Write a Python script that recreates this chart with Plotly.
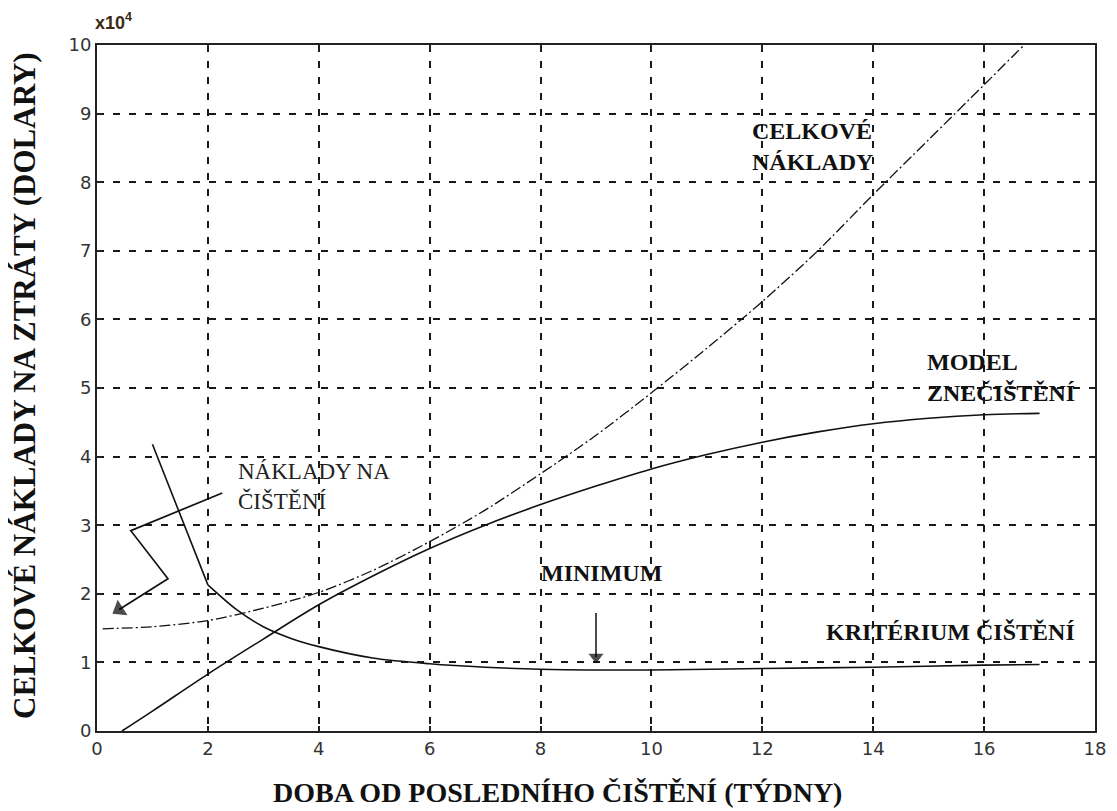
import plotly.graph_objects as go

# ---------------- data (values in units of 10^4 dollars) ----------------
weeks_model = [0.45, 1, 2, 3, 4, 5, 6, 7, 8, 9, 10, 11, 12, 13, 14, 15, 16, 17]
model_fouling = [0.0, 0.29, 0.83, 1.34, 1.84, 2.27, 2.66, 3.0, 3.30, 3.57, 3.82, 4.03, 4.21, 4.36, 4.48, 4.56, 4.61, 4.63]

weeks_total = [0.1, 1, 2, 3, 4, 5, 6, 7, 8, 9, 10, 11, 12, 13, 14, 15, 16, 16.72]
total_cost = [1.49, 1.52, 1.61, 1.79, 2.02, 2.35, 2.76, 3.22, 3.75, 4.31, 4.93, 5.58, 6.26, 7.0, 7.82, 8.62, 9.42, 10.0]

weeks_crit_a = [1.0, 2.0]
criterion_a = [4.18, 2.13]
weeks_crit_b = [2.0, 2.5, 3.0, 3.5, 4.0, 5.0, 6.0, 7.0, 8.0, 9.0, 10.0, 12.0, 14.0, 16.0, 17.0]
criterion_b = [2.13, 1.78, 1.52, 1.35, 1.23, 1.06, 0.98, 0.93, 0.90, 0.89, 0.89, 0.91, 0.93, 0.96, 0.97]

x_ticks = [0, 2, 4, 6, 8, 10, 12, 14, 16, 18]
y_ticks = [0, 1, 2, 3, 4, 5, 6, 7, 8, 9, 10]

minimum_week = 9
minimum_arrow_y = [1.72, 1.08]

# callout arrow for "NÁKLADY NA ČIŠTĚNÍ" (zig-zag leader)
callout_x = [2.26, 0.61, 1.28, 0.40]
callout_y = [3.47, 2.92, 2.22, 1.77]

# ---------------- figure ----------------
fig = go.Figure()
ink = "#111"

fig.add_trace(go.Scatter(x=weeks_model, y=model_fouling, mode="lines",
                         line=dict(color=ink, width=1.6, shape="spline", smoothing=1.0),
                         showlegend=False, hoverinfo="skip"))
fig.add_trace(go.Scatter(x=weeks_total, y=total_cost, mode="lines",
                         line=dict(color=ink, width=1.3, shape="spline", smoothing=0.8,
                                   dash="11px,3px,2px,3px"),
                         showlegend=False, hoverinfo="skip"))
fig.add_trace(go.Scatter(x=weeks_crit_a, y=criterion_a, mode="lines",
                         line=dict(color=ink, width=1.6),
                         showlegend=False, hoverinfo="skip"))
fig.add_trace(go.Scatter(x=weeks_crit_b, y=criterion_b, mode="lines",
                         line=dict(color=ink, width=1.6, shape="spline", smoothing=0.8),
                         showlegend=False, hoverinfo="skip"))

# minimum arrow
fig.add_trace(go.Scatter(x=[minimum_week, minimum_week], y=minimum_arrow_y, mode="lines+markers",
                         line=dict(color=ink, width=1.5),
                         marker=dict(symbol="triangle-up", size=[0, 13], color="#000", angleref="previous",
                                     line=dict(width=0)),
                         showlegend=False, hoverinfo="skip"))
# cleaning-cost callout arrow
fig.add_trace(go.Scatter(x=callout_x, y=callout_y, mode="lines+markers",
                         line=dict(color=ink, width=1.7),
                         marker=dict(symbol="triangle-up", size=[0, 0, 0, 16], color="#000", angleref="previous",
                                     line=dict(width=0)),
                         showlegend=False, hoverinfo="skip"))

serif = "Liberation Serif, Times New Roman, serif"
lab_font = dict(family=serif, size=24, color=ink)

annotations = [
    dict(x=12.9, y=8.52, text="<b>CELKOVÉ<br>NÁKLADY</b>", showarrow=False,
         font=lab_font, align="left", xanchor="center", yanchor="middle"),
    dict(x=16.3, y=5.16, text="<b>MODEL<br>ZNEČIŠTĚNÍ</b>", showarrow=False,
         font=lab_font, align="left", xanchor="center", yanchor="middle"),
    dict(x=9.1, y=2.3, text="<b>MINIMUM</b>", showarrow=False,
         font=lab_font, xanchor="center", yanchor="middle"),
    dict(x=15.4, y=1.44, text="<b>KRITÉRIUM ČIŠTĚNÍ</b>", showarrow=False,
         font=lab_font, xanchor="center", yanchor="middle"),
    dict(x=2.5, y=3.56, text="NÁKLADY NA<br>ČIŠTĚNÍ", showarrow=False,
         font=dict(family=serif, size=23, color="#222"), align="left",
         xanchor="left", yanchor="middle"),
    # x10^4 multiplier
    dict(xref="paper", yref="paper", x=0.0, y=1.0, xanchor="left", yanchor="bottom",
         xshift=-4, yshift=10, text="<b>x10</b><sup><b>4</b></sup>", showarrow=False,
         font=dict(family="Liberation Sans, Arial, sans-serif", size=18, color="#3a2a12")),
    # axis titles
    dict(xref="paper", yref="paper", x=0.461, y=0.0, xanchor="center", yanchor="middle",
         yshift=-61, text="<b>DOBA OD POSLEDNÍHO ČIŠTĚNÍ (TÝDNY)</b>", showarrow=False,
         font=dict(family=serif, size=28, color=ink)),
    dict(xref="paper", yref="paper", x=0.0, y=0.503, xanchor="center", yanchor="middle",
         xshift=-72, textangle=-90, text="<b>CELKOVÉ NÁKLADY NA ZTRÁTY (DOLARY)</b>",
         showarrow=False, font=dict(family=serif, size=31, color=ink)),
]

axis_common = dict(
    showline=True, linecolor="#222", linewidth=2, mirror="ticks",
    ticks="inside", ticklen=5, tickwidth=2, tickcolor="#222",
    showgrid=True, gridcolor="#1a1a1a", gridwidth=1.5, griddash="7px,9px",
    zeroline=False,
    tickfont=dict(family="DejaVu Sans, Liberation Sans, sans-serif", size=18, color="#333"),
)

fig.update_layout(
    width=1117, height=811,
    paper_bgcolor="white", plot_bgcolor="white",
    margin=dict(l=89, r=30, t=37, b=88),
    xaxis=dict(range=[0, 18], tickvals=x_ticks, ticktext=[str(v) for v in x_ticks],
               **axis_common),
    yaxis=dict(range=[0, 10], tickvals=y_ticks, ticktext=[str(v) for v in y_ticks],
               **axis_common),
    annotations=annotations,
)

fig.write_html("out.html")
